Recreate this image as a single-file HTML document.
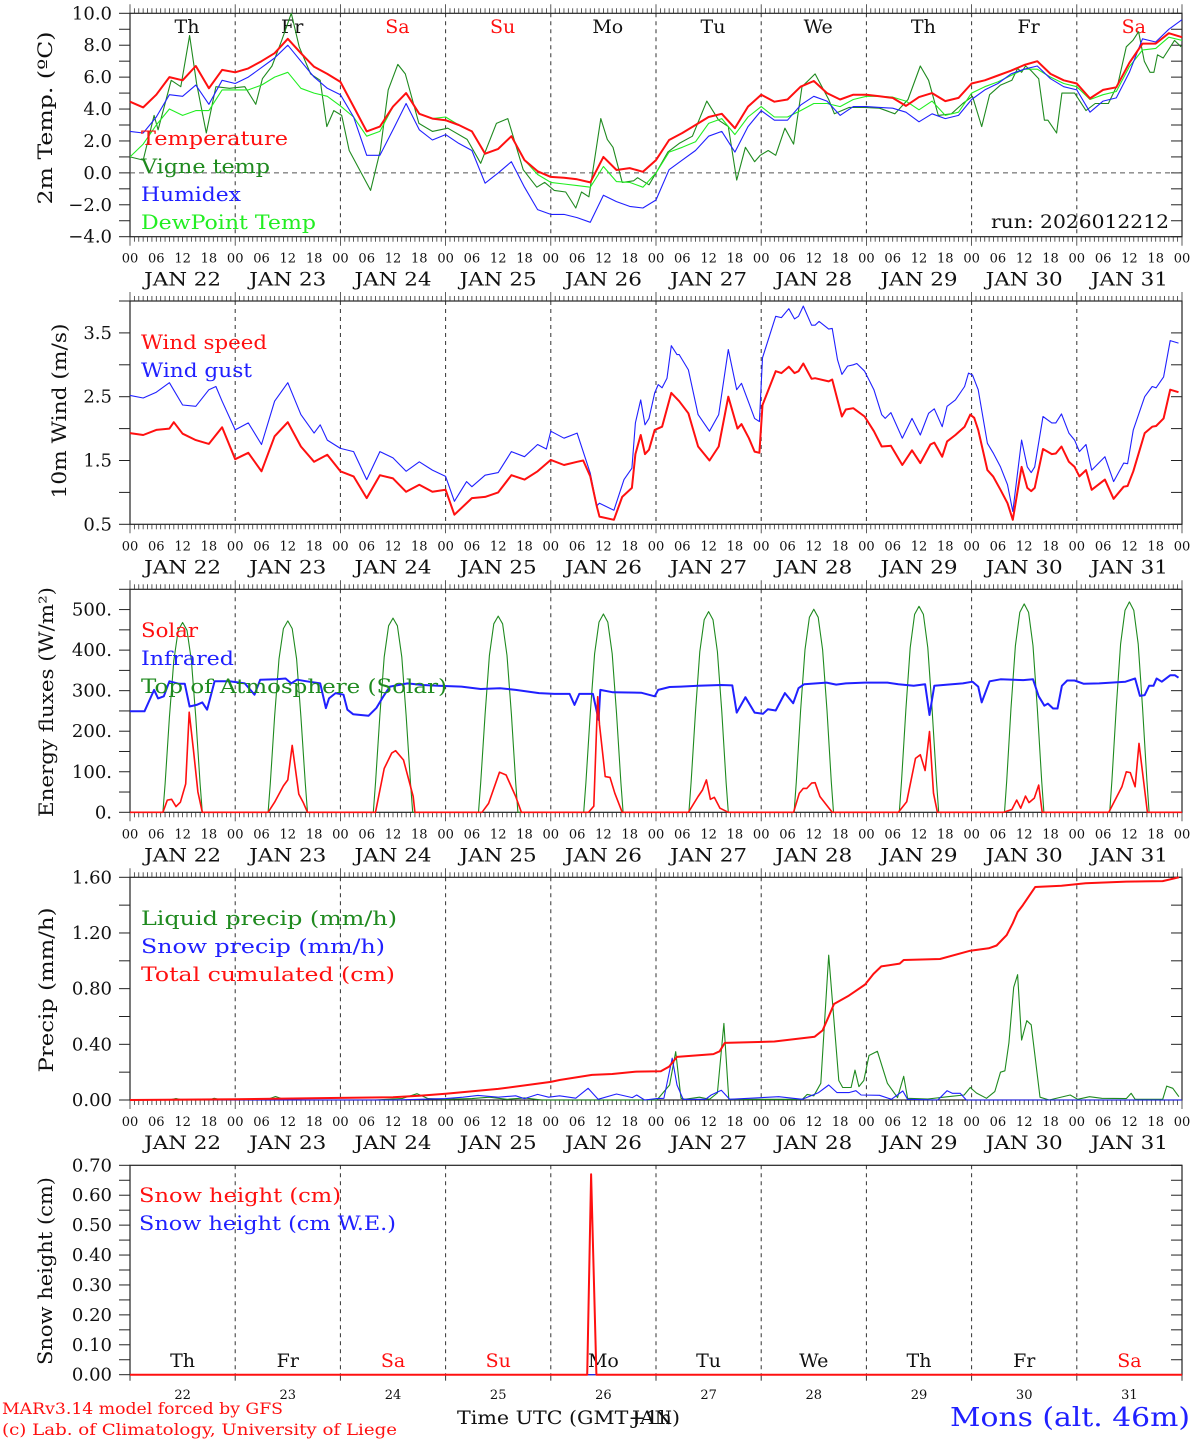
<!DOCTYPE html>
<html><head><meta charset="utf-8"><title>MAR forecast Mons</title>
<style>
html,body{margin:0;padding:0;background:#fff;}
svg{display:block;font-family:"DejaVu Serif","Liberation Serif",serif;}
</style></head>
<body>
<svg id="chart" width="1194" height="1440" viewBox="0 0 1194 1440" xmlns="http://www.w3.org/2000/svg"></svg>
<script>
// ===== DATA =====
const days = ["22","23","24","25","26","27","28","29","30","31"];
const weekdays = ["Th","Fr","Sa","Su","Mo","Tu","We","Th","Fr","Sa"];
const weekend = [false,false,true,true,false,false,false,false,false,true];
const hourLabels = ["00","06","12","18"];
const tempTicks = [10,8,6,4,2,0,-2,-4];
const windTicks = [0.5,1.5,2.5,3.5];
const fluxTicks = [0,100,200,300,400,500];
const precipTicks = [0,0.4,0.8,1.2,1.6];
const snowTicks = [0,0.1,0.2,0.3,0.4,0.5,0.6,0.7];

const hours3 = Array.from({length:81},(_,i)=>i*3);
const temperature = [4.46,4.1,4.9,6.0,5.8,6.7,5.3,6.45, 6.3,6.55,7.0,7.5,8.4,7.5,6.65,6.2, 5.7,4.15,2.6,2.9,4.15,5.0,3.7,3.4, 3.3,3.0,2.6,1.2,1.5,2.3,0.8,0.1, -0.25,-0.3,-0.4,-0.6,1.0,0.18,0.3,0.07, 0.8,2.06,2.5,3.0,3.5,3.7,2.8,4.15, 4.9,4.46,4.6,5.4,5.76,5.0,4.6,4.9, 4.9,4.8,4.7,4.2,4.75,5.0,4.5,4.7, 5.6,5.8,6.1,6.4,6.76,7.0,6.2,5.8, 5.6,4.67,5.2,5.36,6.9,8.1,8.1,8.75, 8.5];
const humidex = [2.6,2.5,3.5,4.9,4.8,5.5,4.3,5.8, 5.6,6.0,6.6,7.2,8.0,7.0,6.0,5.3, 4.9,3.5,1.1,1.1,2.7,4.35,2.7,2.06, 2.4,1.85,1.4,-0.65,0.0,0.7,-0.9,-2.3, -2.6,-2.6,-2.8,-3.1,-1.4,-1.8,-2.1,-2.2, -1.7,0.2,0.8,1.4,2.3,2.6,1.3,2.9, 3.9,3.3,3.3,4.25,4.8,4.5,3.6,4.15, 4.15,4.1,4.05,3.8,3.2,3.7,3.4,3.6, 4.6,5.2,5.6,6.2,6.5,6.7,5.9,5.4, 5.2,3.8,4.5,4.7,6.3,8.4,8.2,9.0, 9.6];
const dewpoint = [1.0,1.8,3.0,4.0,3.6,3.9,3.9,5.2, 5.2,5.2,5.5,6.0,6.3,5.3,5.0,4.8, 4.2,3.5,2.3,2.6,4.15,5.0,3.7,3.4, 3.5,3.0,2.6,1.2,1.5,2.3,0.8,-0.1, -0.6,-0.7,-0.8,-0.9,0.4,-0.55,-0.6,-0.9, 0.0,1.3,1.6,1.95,3.1,3.4,2.4,3.5, 4.15,3.5,3.5,3.9,4.35,4.35,4.15,4.6, 4.8,4.8,4.75,4.5,3.95,4.5,3.6,3.8, 5.0,5.4,5.7,6.1,6.5,6.5,6.0,5.6, 5.4,4.6,4.9,5.1,6.66,7.7,7.8,8.5, 8.3];
const vigneHours = [0,3.0,5.5,6.4,9.4,11.6,13.6,15.2,17.4,19.6,22.7,26.2,28.7,30.2,32.4,34.6,36.8,38.6,41.2,43.4,44.9,46.5,48.3,50.0,54.9,57.1,58.9,61.1,62.8,65.9,69.0,72.5,76.9,80.0,83.6,86.2,89.7,92.8,94.6,96.8,99.4,101.7,103.0,104.7,107.4,108.9,110.2,112.3,114.9,115.8,118.4,120.0,122.7,125.3,128.3,131.6,134.3,136.5,138.4,140.4,142.5,143.8,145.6,147.3,149.4,151.4,153.3,156.3,159.4,160.7,164.1,167.6,171.0,174.5,177.5,180.3,182.2,184.4,187.4,190.0,192.2,194.3,196.1,198.6,201.2,202.5,203.4,204.3,205.6,207.3,208.6,209.4,211.4,212.6,215.5,218.1,220.2,223.2,225.4,227.3,228.8,230.1,231.4,232.7,233.6,234.4,235.7,238.3,239.8];
const vigneTemp = [1.0,0.8,3.6,2.7,5.8,5.4,8.6,5.6,2.5,5.4,5.3,5.4,4.3,5.9,6.7,8.3,10.0,7.9,6.2,5.8,2.9,3.9,3.6,1.4,-1.1,1.4,5.2,6.8,6.2,3.1,2.6,2.8,2.1,0.6,3.1,3.4,0.2,-0.9,-0.6,-1.1,-1.2,-2.2,-1.2,-1.5,3.4,2.1,1.6,-0.6,-0.5,-0.3,-0.75,0.0,1.3,1.85,2.3,4.5,3.3,2.9,-0.45,1.6,0.7,1.1,1.4,1.1,2.8,1.8,5.4,6.2,4.6,3.7,4.1,4.1,4.05,3.7,4.6,6.7,5.8,3.6,3.7,4.35,4.8,2.9,4.9,5.5,5.8,6.55,6.3,6.7,6.4,5.9,3.3,3.3,2.5,5.0,5.0,3.9,4.35,4.35,5.6,7.9,8.3,8.85,7.0,6.3,6.3,7.4,7.2,8.3,7.9];

const windHours = [0,3,6,9,10,12,15,18,21,24,27,30,33,36,39,42,45,48,51,54,57,60,63,66,69,72,74,78,81,84,87,90,93,96,99,102,103.4,105,106.5,107.1,110.4,112.3,114.5,115.3,116.5,117.5,118.4,119.7,121.4,123.5,125.3,127.4,129.6,132.2,134.3,136.5,138.6,139.5,141.2,142.5,143.6,144.3,147.3,148.6,150.3,151.6,152.5,153.6,155.5,156.3,159.4,160.2,161.4,162.4,163.3,165.0,167.6,169.7,171.5,173.6,176.2,178.4,180.3,182.6,183.5,185.3,186.4,188.3,190.4,191.7,192.6,193.5,195.6,196.9,198.6,200.2,201.4,203.4,204.7,205.6,206.4,208.3,210.3,211.2,212.5,214.2,215.5,216.6,218.1,219.4,222.4,224.4,226.7,227.6,228.9,231.5,233.2,234.1,235.8,237.3,239.2];
const windSpeed = [1.93,1.9,1.98,2.0,2.1,1.92,1.82,1.76,2.02,1.52,1.62,1.33,1.88,2.1,1.72,1.48,1.59,1.33,1.25,0.91,1.27,1.22,1.01,1.12,1.01,1.04,0.65,0.91,0.93,1.0,1.27,1.2,1.33,1.51,1.43,1.48,1.5,1.25,0.78,0.62,0.57,0.93,1.07,1.6,1.9,1.6,1.67,1.98,2.03,2.56,2.43,2.24,1.72,1.5,1.72,2.5,2.0,2.07,1.85,1.64,1.62,2.37,2.9,2.87,2.97,2.87,2.9,3.02,2.78,2.79,2.74,2.77,2.45,2.19,2.3,2.32,2.19,1.96,1.72,1.73,1.43,1.66,1.46,1.75,1.78,1.56,1.8,1.9,2.03,2.22,2.17,1.98,1.35,1.25,1.04,0.83,0.57,1.4,1.07,1.02,1.07,1.68,1.6,1.61,1.72,1.48,1.4,1.25,1.35,1.04,1.2,0.9,1.09,1.1,1.33,1.93,2.03,2.04,2.16,2.61,2.57];
const gustHours = [0,3,6,9,12,15,18,19.6,21,24,27,30,33,36,39,42,43.4,45,48,51,54,57,60,63,66,69,72,74,76.8,78,81,84,87,90,93,95,96,99,102,105,106.5,107.1,110.4,112.7,114.5,115.3,116.5,117.5,118.4,119.7,120.5,121.4,122.5,123.5,124.8,125.3,127.4,129.6,132.2,134.3,136.5,138.4,139.5,141.2,142.5,143.6,144.3,147.3,148.6,150.3,151.6,152.5,153.6,155.5,156.3,157.2,159.4,160.2,161.4,162.4,163.7,165.0,165.8,167.6,169.7,171.5,172.3,173.6,176.2,178.4,180.3,182.2,183.5,185.3,186.4,188.3,190.4,191.3,192.2,193.5,195.6,196.9,198.6,200.2,201.4,203.4,204.7,205.6,206.4,208.3,210.3,211.2,212.5,214.2,215.5,216.6,218.1,219.4,222.4,224.4,226.7,227.6,228.9,231.5,233.2,234.1,235.8,237.3,239.2];
const windGust = [2.52,2.48,2.57,2.72,2.37,2.35,2.61,2.66,2.43,1.98,2.09,1.75,2.43,2.72,2.22,1.93,2.06,1.82,1.69,1.64,1.2,1.64,1.54,1.33,1.48,1.35,1.25,0.86,1.17,1.09,1.27,1.31,1.64,1.56,1.75,1.68,1.96,1.85,1.93,1.3,0.79,0.83,0.72,1.2,1.38,2.09,2.45,2.06,2.16,2.56,2.69,2.64,2.79,3.3,3.16,3.16,2.92,2.22,1.96,2.22,3.24,2.61,2.71,2.4,2.16,2.11,3.11,3.76,3.74,3.88,3.72,3.76,3.92,3.62,3.62,3.68,3.56,3.57,3.08,2.85,2.98,3.0,3.02,2.9,2.61,2.22,2.16,2.25,1.85,2.16,1.9,2.24,2.31,2.03,2.35,2.45,2.66,2.87,2.84,2.61,1.77,1.62,1.4,1.12,0.7,1.82,1.4,1.31,1.4,2.19,2.09,2.09,2.23,1.93,1.82,1.64,1.75,1.35,1.56,1.17,1.46,1.45,1.98,2.5,2.66,2.64,2.81,3.38,3.34];

const toaHoursRel = [7.5,8,9,10,11,12,13,14,15,16,16.5];
const toaSolar = [
 0,70,234,374,449,468,449,374,234,70,0,
 0,71,236,378,453,472,453,378,236,71,0,
 0,72,240,383,460,479,460,383,240,72,0,
 0,73,242,387,465,484,465,387,242,73,0,
 0,73,245,391,469,489,469,391,245,73,0,
 0,74,248,396,475,495,475,396,248,74,0,
 0,75,251,401,481,501,481,401,251,75,0,
 0,76,254,406,488,508,488,406,254,76,0,
 0,77,257,411,493,514,493,411,257,77,0,
 0,78,260,415,498,519,498,415,260,78,0];
const solarHours = [0,7.5,8.5,9.5,10.5,11.5,12.7,13.5,14.5,15.5,16.5,31.5,33,35,36,37,38.5,39.5,40.5,56.0,58.0,59.7,60.6,62.4,64.6,65.0,80.3,81.8,84.3,85.8,88.0,89.3,104.6,105.8,106.7,107.1,108.0,108.4,109.5,110.6,112.3,127.4,129.6,130.6,131.5,132.4,133.3,134.6,136.5,151.4,152.7,153.6,154.4,155.5,156.3,157.4,158.9,160.2,175.3,177.2,179.2,180.3,181.4,182.4,183.3,184.2,199.3,201.2,202.3,203.2,204.3,205.1,206.3,207.3,208.1,223.3,226.3,227.3,228.2,229.3,230.2,232.1,240];
const solar = [0,0,30,32,14,25,70,247,150,50,0,0,25,65,80,165,45,25,0,0,108,146,152,129,39,0,0,22,99,92,39,0,0,15,285,216,129,88,86,47,0,0,39,55,80,32,37,10,0,0,47,59,59,72,73,39,18,0,0,26,133,142,103,199,47,0,0,7,30,10,40,24,35,67,0,0,63,100,98,63,170,0,0];
const irHours = [0,3.3,5.5,6.4,7.7,9.0,11.2,12.5,13.6,15.2,16.5,17.6,19.3,22.7,26.2,28.4,29.7,33.3,35.5,36.8,38.1,40.3,43.4,44.7,45.4,46.9,48.7,49.6,50.9,54.4,56.2,57.8,59.3,63.3,66.8,70.3,75.6,80.0,84.4,88.0,93.3,96.8,100.3,101.4,102.5,105.6,106.9,107.3,110.2,116.6,119.7,120.5,123.1,125.7,129.6,134.8,137.4,138.4,140.4,142.5,144.4,145.5,147.3,149.4,151.3,152.5,153.8,158.9,161.1,163.3,167.6,172.8,175.3,178.8,181.4,182.4,183.5,186.5,190.0,192.2,193.5,194.3,196.1,198.6,203.8,206.0,207.3,208.6,209.4,210.6,211.6,212.6,213.8,215.5,217.6,221.1,227.1,229.3,230.4,231.5,232.5,233.5,234.2,235.4,237.3,238.4,239.2];
const infrared = [249,249,302,281,286,323,317,317,261,265,271,253,323,323,318,290,327,328,330,318,327,323,318,257,281,294,290,253,242,238,257,286,310,318,314,312,310,304,306,302,294,292,292,265,292,292,228,302,296,295,286,302,309,310,312,314,313,246,284,246,243,254,251,294,269,306,316,320,315,318,320,320,316,312,316,240,312,315,318,322,310,271,323,328,326,328,286,263,268,256,256,312,325,325,317,318,322,330,287,289,312,312,330,322,338,338,332];

const totalHours = [0,24,48,60,66,72,84,96,98.0,105.4,110.0,115.6,121.1,123.0,124.8,133.1,134.5,135.7,147.0,156.2,158.0,159.4,160.6,164.0,165.4,167.7,169.6,171.4,175.6,176.5,184.8,191.7,195.9,197.7,200.0,201.4,202.5,203.7,206.5,212.5,218.0,227.3,235.6,239.3];
const totalCum = [0,0.005,0.015,0.02,0.03,0.045,0.08,0.13,0.144,0.18,0.187,0.204,0.206,0.24,0.31,0.33,0.35,0.41,0.42,0.455,0.50,0.60,0.69,0.75,0.78,0.83,0.905,0.96,0.98,1.006,1.013,1.073,1.09,1.11,1.185,1.27,1.35,1.40,1.53,1.54,1.557,1.569,1.573,1.60];
const liquidHours = [0,9,10.5,12,18,19.2,21,31,33.2,35,40,56,62,65.5,68,72,78,82,86,90,94,98,120.2,123.1,124.5,125.7,126.6,129.9,132.2,134.0,135.5,136.6,153.4,154.5,156.0,157.6,159.4,161.7,162.6,164.5,165.4,166.3,167.4,168.6,170.5,172.8,175.1,176.5,177.4,182.0,186.6,190.3,191.7,193.1,195.4,197.3,198.6,199.6,200.5,201.6,202.5,203.4,204.6,205.6,207.6,209.7,214.5,216.2,218.9,221.7,227.3,228.4,229.3,235.6,236.5,237.9,239.3];
const liquidPrecip = [0,0,0.01,0,0,0.012,0,0,0.025,0.005,0,0,0.01,0.045,0.01,0.005,0.01,0.02,0.005,0.015,0,0,0,0.108,0.347,0.012,0.005,0.02,0.005,0.05,0.55,0.005,0.005,0.04,0.03,0.12,1.04,0.14,0.09,0.09,0.215,0.096,0.14,0.32,0.35,0.12,0.017,0.17,0.012,0.007,0.024,0.036,0.09,0.05,0.012,0.06,0.2,0.21,0.41,0.81,0.9,0.43,0.57,0.54,0.02,0,0.036,0.005,0.024,0.012,0.01,0.048,0.005,0.005,0.1,0.084,0.024];
const snowPrecipHours = [0,60,66,72,76,79.4,84,88,90,93,95.5,98,101.7,104.5,106.8,111,114.6,115.6,117.4,120.2,121.8,123.7,124.8,126.2,131.3,132.6,134.9,136.8,148,153.4,157.1,159.4,161.3,164,165.6,166.8,171,173.7,176.3,177.4,184.3,186.4,187.6,189.4,190.8,240];
const snowPrecip = [0,0,0.005,0.01,0.02,0.033,0.02,0.03,0.01,0.04,0.02,0.03,0.013,0.084,0.005,0.043,0.017,0.036,0,0.01,0.012,0.3,0.108,0.005,0.005,0.036,0.07,0.005,0.024,0.005,0.053,0.108,0.053,0.053,0.067,0.036,0.034,0.005,0.065,0.005,0,0.067,0.048,0.048,0,0];
const snowHours = [0,104.3,105.2,106.4,240];
const snowHeight = [0,0,0.67,0,0];
const snowWE = [0,0,0,0,0];

// ===== DRAWING =====
const NS = "http://www.w3.org/2000/svg";
const svg = document.getElementById("chart");
const X0 = 130, X1 = 1182;
const xOf = h => X0 + h*(X1-X0)/240;
function mk(tag, attrs, parent){
  const e = document.createElementNS(NS, tag);
  for (const k in attrs) e.setAttribute(k, attrs[k]);
  (parent||svg).appendChild(e);
  return e;
}
const panels = {
  temp:{top:13.3,bot:236.7,min:-4,max:10},
  wind:{top:301,bot:524.3,min:0.5,max:4.0},
  flux:{top:589.3,bot:812.3,min:0,max:550},
  prec:{top:877.3,bot:1100,min:0,max:1.6},
  snow:{top:1165.3,bot:1374.7,min:0,max:0.7}
};
const yOf = (p,v) => p.bot - (v-p.min)/(p.max-p.min)*(p.bot-p.top);

function frame(key, p, minorStep, ticks, fmt, hourAxis){
  const g = mk("g",{});
  
  
  for (let d=1; d<10; d++){
    const l = mk("line",{x1:xOf(d*24),x2:xOf(d*24),y1:p.top,y2:p.bot,stroke:"#333","stroke-width":1,"stroke-dasharray":"4,4"},g);
    
    
  }
  const r = mk("rect",{x:X0,y:p.top,width:X1-X0,height:p.bot-p.top,fill:"none",stroke:"#222","stroke-width":1.2},g);
  
  
  for (let v=p.min; v<=p.max+1e-9; v+=minorStep){
    const y = yOf(p,v);
    mk("line",{x1:X0-11,x2:X0,y1:y,y2:y,stroke:"#222","stroke-width":1},g);
    mk("line",{x1:X1,x2:X1-11,y1:y,y2:y,stroke:"#222","stroke-width":1},g);
  }
  ticks.forEach(v=>{
    const t = mk("text",{x:112,y:yOf(p,v)+6,"text-anchor":"end","font-size":18,fill:"#111"},g);
    
    
    t.textContent = fmt(v);
  });
  if (hourAxis){
    for (let h=0; h<=240; h++){
      const len = (h%24===0)?9:5;
      mk("line",{x1:xOf(h),x2:xOf(h),y1:p.top-len,y2:p.top,stroke:"#333","stroke-width":0.8},g);
      mk("line",{x1:xOf(h),x2:xOf(h),y1:p.bot,y2:p.bot+len,stroke:"#333","stroke-width":0.8},g);
    }
    for (let h=0; h<=240; h+=6){
      const t = mk("text",{x:xOf(h),y:p.bot+26,"text-anchor":"middle","font-size":13,fill:"#111"},g);
      
      
      t.textContent = hourLabels[(h/6)%4];
    }
    days.forEach((d,i)=>{
      const t = mk("text",{x:xOf(i*24+12),y:p.bot+49,"text-anchor":"middle","font-size":19,fill:"#111",textLength:77,lengthAdjust:"spacingAndGlyphs"},g);
      
      
      t.textContent = "JAN "+d;
    });
  }
  return g;
}
function ytitle(txt, cx, cy, len){
  const t = mk("text",{x:cx,y:cy,"text-anchor":"middle","font-size":20,fill:"#111",transform:`rotate(-90 ${cx} ${cy})`,textLength:len,lengthAdjust:"spacingAndGlyphs"});
  
  
  t.textContent = txt;
  return t;
}
function legend(txt, x, y, color, len, size){
  const t = mk("text",{x:x,y:y,"font-size":size||20,fill:color,textLength:len,lengthAdjust:"spacingAndGlyphs"});
  
  
  t.textContent = txt;
  return t;
}
function series(p, hrs, vals, color, w, name){
  const pts = hrs.map((h,i)=>xOf(h).toFixed(1)+","+yOf(p,Math.max(p.min,Math.min(p.max,vals[i]))).toFixed(1)).join(" ");
  const l = mk("polyline",{points:pts,fill:"none",stroke:color,"stroke-width":w,"stroke-linejoin":"round"});
  
  
  return l;
}

const RED="#ff1010", BLUE="#2020ff", DKG="#1f8a1f", LTG="#22ee22";

const P1 = panels.temp;
frame("temperature", P1, 1, tempTicks, v=>v.toFixed(1).replace("-","\u2212"), true);
const zl = mk("line",{x1:X0,x2:X1,y1:yOf(P1,0),y2:yOf(P1,0),stroke:"#555","stroke-width":1,"stroke-dasharray":"5,4"});


weekdays.forEach((w,i)=>{
  const t = mk("text",{x:xOf(i*24+13),y:33,"text-anchor":"middle","font-size":19,fill:weekend[i]?RED:"#111"});
  
  
  t.textContent = w;
});
series(P1, vigneHours, vigneTemp, DKG, 1.1, "vigne-temp-line");
series(P1, hours3, dewpoint, LTG, 1.1, "dewpoint-line");
series(P1, hours3, humidex, BLUE, 1.1, "humidex-line");
series(P1, hours3, temperature, RED, 2, "temperature-line");
legend("Temperature",141,145,RED,147);
legend("Vigne temp",141,173,DKG,129);
legend("Humidex",141,201,BLUE,100);
legend("DewPoint Temp",141,229,LTG,175);
const run = mk("text",{x:1169,y:228,"text-anchor":"end","font-size":19,fill:"#111",textLength:178,lengthAdjust:"spacingAndGlyphs"});


run.textContent = "run: 2026012212";
ytitle("2m Temp. (\u00baC)",52,118,173);

const P2 = panels.wind;
frame("wind", P2, 0.5, windTicks, v=>v.toFixed(1), true);
series(P2, gustHours, windGust, BLUE, 1.1, "wind-gust-line");
series(P2, windHours, windSpeed, RED, 2, "wind-speed-line");
legend("Wind speed",141,349,RED,126);
legend("Wind gust",141,377,BLUE,111);
ytitle("10m Wind (m/s)",66,411,175);

const P3 = panels.flux;
frame("energy", P3, 50, fluxTicks, v=>v.toFixed(0)+".", true);
const toaH = [], toaV = [];
for (let d=0; d<10; d++) toaHoursRel.forEach((r,j)=>{ toaH.push(d*24+r); toaV.push(toaSolar[d*toaHoursRel.length+j]); });
toaH.unshift(0); toaV.unshift(0); toaH.push(240); toaV.push(0);
series(P3, toaH, toaV, DKG, 1.1, "toa-solar-line");
series(P3, irHours, infrared, BLUE, 2, "infrared-line");
series(P3, solarHours, solar, RED, 1.6, "solar-line");
legend("Solar",141,637,RED,57);
legend("Infrared",141,665,BLUE,93);
legend("Top of Atmosphere (Solar)",141,693,DKG,306);
ytitle("Energy fluxes (W/m\u00b2)",53,702,230);

const P4 = panels.prec;
frame("precip", P4, 0.2, precipTicks, v=>v.toFixed(2), true);
series(P4, liquidHours, liquidPrecip, DKG, 1.1, "liquid-precip-line");
series(P4, snowPrecipHours, snowPrecip, BLUE, 1.1, "snow-precip-line");
series(P4, totalHours, totalCum, RED, 2, "total-cumulated-line");
legend("Liquid precip (mm/h)",141,925,DKG,256);
legend("Snow precip (mm/h)",141,953,BLUE,244);
legend("Total cumulated (cm)",141,981,RED,254);
ytitle("Precip (mm/h)",53,990,165);

const P5 = panels.snow;
frame("snow", P5, 0.05, snowTicks, v=>v.toFixed(2), false);
for (let d=0; d<=10; d++){
  mk("line",{x1:xOf(d*24),x2:xOf(d*24),y1:P5.bot,y2:P5.bot+6,stroke:"#333","stroke-width":1});
}
weekdays.forEach((w,i)=>{
  const t = mk("text",{x:xOf(i*24+12),y:1367,"text-anchor":"middle","font-size":19,fill:weekend[i]?RED:"#111"});
  
  
  t.textContent = w;
});
days.forEach((d,i)=>{
  const t = mk("text",{x:xOf(i*24+12),y:1399,"text-anchor":"middle","font-size":13,fill:"#111"});
  
  
  t.textContent = d;
});
series(P5, snowHours, snowWE, BLUE, 1.2, "snow-we-line");
series(P5, snowHours, snowHeight, RED, 2, "snow-height-line");
legend("Snow height (cm)",139,1202,RED,202);
legend("Snow height (cm W.E.)",139,1230,BLUE,257);
ytitle("Snow height (cm)",52,1271,188);

const f1 = mk("text",{x:2,y:1414,"font-size":16,fill:RED,textLength:281,lengthAdjust:"spacingAndGlyphs"});


f1.textContent = "MARv3.14 model forced by GFS";
const f2 = mk("text",{x:2,y:1435,"font-size":16,fill:RED,textLength:395,lengthAdjust:"spacingAndGlyphs"});


f2.textContent = "(c) Lab. of Climatology, University of Liege";
const xt = mk("text",{x:457,y:1424,"font-size":19,fill:"#111",textLength:223,lengthAdjust:"spacingAndGlyphs"});


xt.textContent = "Time UTC (GMT+1h)";
const xj = mk("text",{x:632,y:1424,"font-size":19,fill:"#111",textLength:40,lengthAdjust:"spacingAndGlyphs"});


xj.textContent = "JAN";
const st = mk("text",{x:1190,y:1426,"text-anchor":"end","font-size":26,fill:BLUE,textLength:240,lengthAdjust:"spacingAndGlyphs"});


st.textContent = "Mons (alt. 46m)";
</script>
</body></html>
